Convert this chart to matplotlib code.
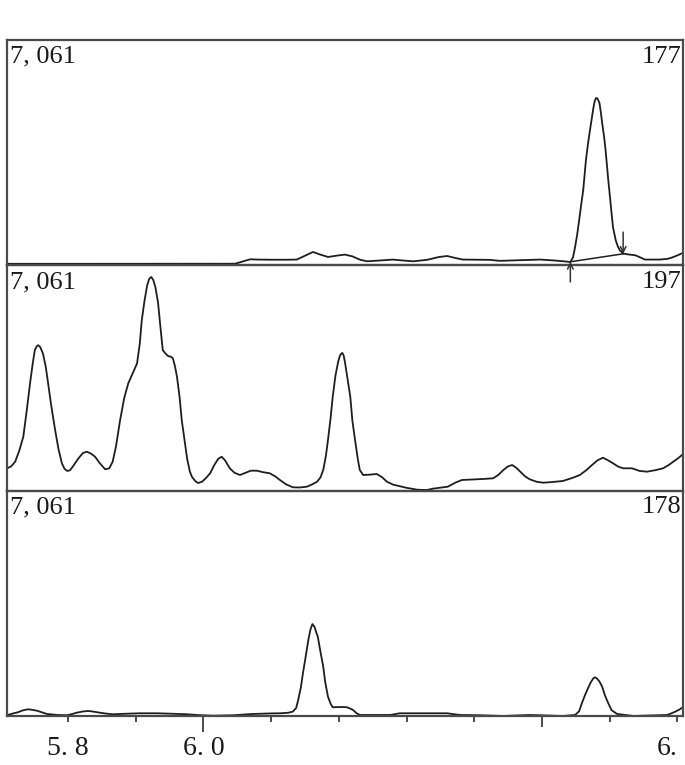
import matplotlib
matplotlib.use("Agg")
import matplotlib.pyplot as plt

# retention time (min) and intensity for the three traces
t_top = [5.710, 5.847, 6.047, 6.058, 6.069, 6.080, 6.098, 6.125, 6.138, 6.150,
         6.162, 6.172, 6.184, 6.196, 6.209, 6.220, 6.232, 6.242, 6.260, 6.280,
         6.295, 6.310, 6.330, 6.348, 6.360, 6.372, 6.383, 6.405, 6.423, 6.438,
         6.468, 6.497, 6.519, 6.535, 6.542, 6.546, 6.549, 6.552, 6.555, 6.558,
         6.561, 6.565, 6.568, 6.571, 6.574, 6.576, 6.578, 6.580, 6.582, 6.585,
         6.587, 6.589, 6.592, 6.594, 6.596, 6.598, 6.601, 6.603, 6.605, 6.609,
         6.612, 6.615, 6.620, 6.628, 6.638, 6.645, 6.652, 6.674, 6.685, 6.692,
         6.700, 6.708]
y_top = [47, 47, 50, 120, 188, 180, 175, 175, 180, 300,
         418, 340, 261, 300, 336, 280, 170, 126, 150, 179,
         150, 126, 170, 260, 292, 230, 180, 175, 170, 140,
         160, 180, 150, 120, 104, 250, 575, 950, 1413, 1900,
         2355, 3297, 3800, 4239, 4650, 4930, 5150, 5244, 5230, 5087,
         4800, 4459, 4000, 3611, 3150, 2669, 2041, 1600, 1193, 785,
         600, 471, 367, 340, 314, 250, 180, 180, 200, 242,
         310, 386]

t_mid = [5.710, 5.716, 5.722, 5.728, 5.734, 5.739, 5.744, 5.748, 5.751, 5.754,
         5.756, 5.759, 5.763, 5.767, 5.770, 5.775, 5.781, 5.786, 5.791, 5.795,
         5.799, 5.803, 5.807, 5.815, 5.822, 5.828, 5.834, 5.840, 5.847, 5.855,
         5.861, 5.866, 5.871, 5.877, 5.883, 5.889, 5.896, 5.902, 5.906, 5.909,
         5.913, 5.917, 5.920, 5.923, 5.926, 5.929, 5.933, 5.936, 5.940, 5.944,
         5.948, 5.952, 5.955, 5.958, 5.961, 5.965, 5.968, 5.972, 5.976, 5.980,
         5.983, 5.988, 5.992, 5.998, 6.004, 6.010, 6.016, 6.022, 6.027, 6.032,
         6.039, 6.046, 6.054, 6.062, 6.070, 6.079, 6.088, 6.098, 6.106, 6.113,
         6.122, 6.132, 6.142, 6.153, 6.161, 6.168, 6.173, 6.177, 6.181, 6.184,
         6.188, 6.191, 6.195, 6.199, 6.202, 6.205, 6.207, 6.209, 6.213, 6.217,
         6.220, 6.224, 6.228, 6.231, 6.236, 6.245, 6.256, 6.264, 6.271, 6.280,
         6.290, 6.300, 6.316, 6.330, 6.339, 6.350, 6.361, 6.372, 6.382, 6.395,
         6.404, 6.416, 6.428, 6.436, 6.443, 6.450, 6.456, 6.462, 6.468, 6.475,
         6.482, 6.492, 6.502, 6.515, 6.531, 6.545, 6.556, 6.566, 6.574, 6.582,
         6.590, 6.597, 6.605, 6.613, 6.620, 6.633, 6.644, 6.655, 6.667, 6.679,
         6.687, 6.694, 6.702, 6.708]
y_mid = [701, 760, 908, 1250, 1690, 2500, 3371, 4000, 4404, 4530,
         4560, 4500, 4300, 3900, 3465, 2700, 1900, 1300, 858, 680,
         617, 640, 751, 1000, 1180, 1221, 1160, 1064, 860, 670,
         700, 908, 1400, 2213, 2900, 3362, 3700, 3988, 4600, 5343,
         5950, 6438, 6640, 6698, 6600, 6385, 5900, 5240, 4404, 4300,
         4216, 4200, 4144, 3900, 3568, 2900, 2213, 1600, 1000, 600,
         438, 300, 240, 280, 400, 545, 800, 1000, 1064, 950,
         701, 560, 491, 560, 626, 626, 580, 545, 450, 335,
         200, 106, 100, 125, 200, 282, 420, 648, 1100, 1587,
         2300, 2942, 3600, 4038, 4250, 4319, 4250, 4038, 3500, 2942,
         2200, 1587, 1000, 648, 491, 500, 523, 420, 282, 190,
         140, 90, 30, 20, 63, 95, 125, 250, 335, 350,
         357, 370, 388, 500, 648, 760, 804, 720, 595, 450,
         357, 280, 250, 270, 304, 400, 491, 650, 804, 950,
         1033, 960, 858, 750, 701, 701, 620, 595, 640, 701,
         800, 908, 1030, 1139]

t_bot = [5.711, 5.719, 5.726, 5.734, 5.741, 5.748, 5.754, 5.762, 5.769, 5.785,
         5.799, 5.806, 5.813, 5.822, 5.830, 5.838, 5.847, 5.856, 5.866, 5.886,
         5.906, 5.931, 5.951, 5.976, 5.995, 6.014, 6.044, 6.073, 6.100, 6.113,
         6.125, 6.132, 6.137, 6.140, 6.144, 6.147, 6.151, 6.155, 6.158, 6.161,
         6.164, 6.167, 6.169, 6.173, 6.177, 6.180, 6.184, 6.188, 6.191, 6.200,
         6.207, 6.212, 6.217, 6.221, 6.226, 6.231, 6.276, 6.290, 6.360, 6.379,
         6.409, 6.443, 6.482, 6.531, 6.549, 6.555, 6.559, 6.563, 6.568, 6.572,
         6.576, 6.578, 6.581, 6.585, 6.589, 6.593, 6.598, 6.603, 6.611, 6.635,
         6.685, 6.691, 6.697, 6.703, 6.708]
y_bot = [31, 80, 116, 180, 210, 190, 166, 110, 63, 30,
         22, 60, 103, 140, 157, 135, 103, 75, 53, 70,
         84, 84, 72, 53, 25, 9, 22, 63, 80, 84,
         100, 135, 250, 501, 900, 1337, 1850, 2379, 2700, 2880,
         2800, 2600, 2482, 2000, 1543, 1050, 604, 380, 272, 280,
         280, 272, 230, 188, 90, 31, 31, 84, 84, 31,
         22, 0, 31, 0, 31, 150, 398, 620, 867, 1050,
         1180, 1211, 1180, 1080, 917, 650, 398, 180, 63, 0,
         31, 80, 135, 200, 272]

series = [(t_top, y_top), (t_mid, y_mid), (t_bot, y_bot)]
scale_labels = ["7, 061", "7, 061", "7, 061"]
mass_labels = ["177", "197", "178"]

# peak integration marks on the top trace
peak_start = (6.542, 110)
peak_end = (6.620, 360)

tick_vals = [5.8, 5.9, 6.0, 6.1, 6.2, 6.3, 6.4, 6.5, 6.6, 6.7]
tick_text = ["5. 8", "", "6. 0", "", "", "", "", "", "", "6."]

font = ["Liberation Serif", "DejaVu Serif"]
plt.rcParams["font.family"] = font

fig = plt.figure(figsize=(6.85, 7.65), dpi=100)
spine_col = "#4a4a4a"
ymax = 7061
bottoms = [0.6532, 0.3586, 0.0641]
axes = []
for i, (t, y) in enumerate(series):
    ax = fig.add_axes([0.0102, bottoms[i], 0.9869, 0.2945])
    ax.set_facecolor("none")
    ax.set_zorder(3 - i)
    ax.plot(t, y, color="#1e1e1e", lw=1.3)
    ax.set_xlim(5.7099, 6.7084)
    ax.set_ylim(0, ymax)
    ax.set_yticks([])
    for s in ax.spines.values():
        s.set_color(spine_col)
        s.set_linewidth(1.6)
    ax.text(0.004, 0.975, scale_labels[i], transform=ax.transAxes,
            ha="left", va="top", fontsize=19, color="#1a1a1a")
    ax.text(0.997, 0.975, mass_labels[i], transform=ax.transAxes,
            ha="right", va="top", fontsize=19, color="#1a1a1a")
    if i < 2:
        ax.set_xticks([])
    axes.append(ax)

# integration baseline and start / end arrows
ax = axes[0]
ax.plot([peak_start[0], peak_end[0]], [peak_start[1], peak_end[1]],
        color="#1e1e1e", lw=1.1)
ax.annotate("", xy=peak_start, xytext=(peak_start[0], -520),
            arrowprops=dict(arrowstyle="->", color="#333333", lw=1.1,
                            shrinkA=0, shrinkB=0, mutation_scale=10),
            annotation_clip=False)
ax.annotate("", xy=peak_end, xytext=(peak_end[0], 1040),
            arrowprops=dict(arrowstyle="->", color="#333333", lw=1.1,
                            shrinkA=0, shrinkB=0, mutation_scale=10),
            annotation_clip=False)

ax = axes[2]
ax.set_xticks(tick_vals)
ax.set_xticklabels(tick_text)
ax.tick_params(axis="x", length=4.3, width=1.4, color=spine_col,
               labelsize=20, pad=10, labelcolor="#1a1a1a")
ticks = ax.xaxis.get_major_ticks()
ticks[2].tick1line.set_markersize(11.5)
ticks[7].tick1line.set_markersize(8)
ax.get_xticklabels()[-1].set_horizontalalignment("right")

fig.savefig("out.png", dpi=100)
